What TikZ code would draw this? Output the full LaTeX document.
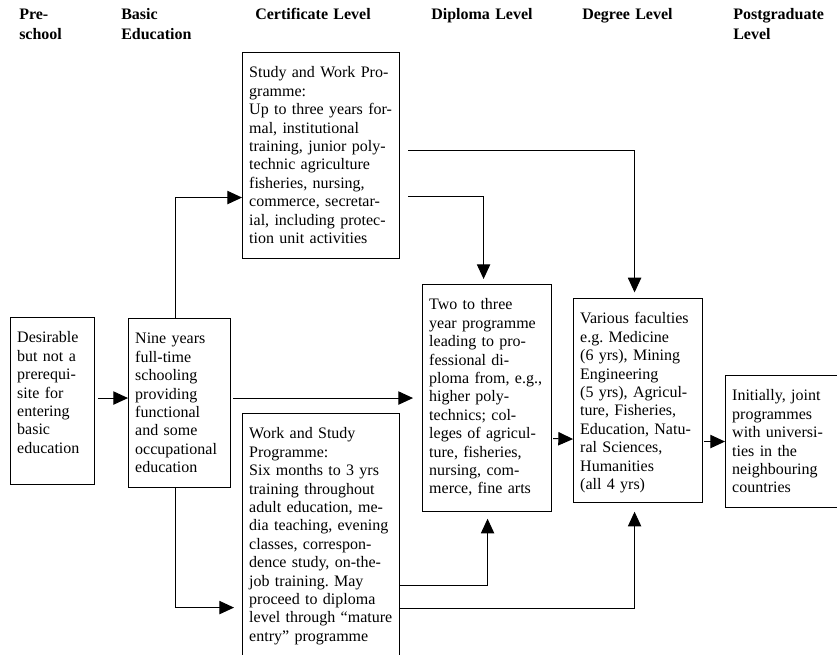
\documentclass[tikz,border=0pt]{standalone}
\usepackage{fontspec}
\setmainfont{Liberation Serif}
\usetikzlibrary{arrows.meta}

\begin{document}
\begin{tikzpicture}[
  x=0.75pt, y=-0.75pt,
  level/.style={anchor=base west, inner sep=0pt, text width=100pt, align=left,
    font=\fontsize{12}{15}\selectfont\bfseries},
  stage/.style={draw, line width=0.8pt, anchor=north west, align=left,
    inner xsep=5pt, inner ysep=10.5pt, text height=8.5pt,
    font=\fontsize{12}{13.8}\selectfont\frenchspacing},
  arrow/.style={-{Triangle[length=11pt, width=10pt]}, line width=0.75pt}
]
\useasboundingbox (0,0) rectangle (837,654);

% column headings
\node (hpre)  [level] at (19,19)  {Pre-\\school};
\node (hbas)  [level] at (121,19) {Basic\\Education};
\node (hcert) [level] at (255,19) {Certificate Level};
\node (hdip)  [level] at (431,19) {Diploma Level};
\node (hdeg)  [level] at (582,19) {Degree Level};
\node (hpost) [level] at (733,19) {Postgraduate\\Level};

% stages
\node (pre) [stage, text width=53pt, text depth=95.75pt] at (10,317)
  {Desirable\\but not a\\prerequi-\\site for\\entering\\basic\\education};
\node (basic) [stage, text width=66.5pt, text depth=97.25pt] at (128,318)
  {Nine years\\full-time\\schooling\\providing\\functional\\and some\\occupational\\education};
\node (cert) [stage, text width=107.75pt, text depth=125pt] at (242,52)
  {Study and Work~Pro-\\gramme:\\Up to three years~for-\\mal, institutional\\training, junior~poly-\\technic agriculture\\fisheries, nursing,\\commerce, secretar-\\ial, including~protec-\\tion unit activities};
\node (work) [stage, text width=107.75pt, text depth=155.75pt] at (242,413)
  {Work and Study\\Programme:\\Six months to 3 yrs\\training throughout\\adult education,~me-\\dia teaching,~evening\\classes, correspon-\\dence study, on-the-\\job training. May\\proceed to diploma\\level through~“mature\\entry” programme};
\node (dip) [stage, text width=86.75pt, text depth=140.75pt] at (422,284)
  {Two to three\\year programme\\leading to pro-\\fessional di-\\ploma from,~e.g.,\\higher poly-\\technics; col-\\leges of agricul-\\ture, fisheries,\\nursing, com-\\merce, fine arts};
\node (deg) [stage, text width=86.75pt, text depth=123.5pt] at (573,298)
  {Various faculties\\e.g. Medicine\\(6 yrs), Mining\\Engineering\\(5 yrs), Agricul-\\ture, Fisheries,\\Education, Natu-\\ral Sciences,\\Humanities\\(all 4 yrs)};
\node (post) [stage, text width=80pt, text depth=69.5pt] at (725,375)
  {Initially, joint\\programmes\\with universi-\\ties in the\\neighbouring\\countries};

% connectors
\draw [arrow, shorten <=2.25pt] (pre.east |- dip.west) -- (basic.west |- dip.west);
\draw [arrow, shorten <=1.5pt, shorten >=6.75pt] (basic.east |- dip.west) -- (dip.west);
\draw [arrow] ([xshift=-3pt]basic.north) |- ([yshift=-31.5pt]cert.west);
\draw [arrow, shorten >=6pt] ([xshift=-3pt]basic.south) |- ([yshift=-52.9pt]work.west);
\draw [arrow, shorten <=6pt, shorten >=4.2pt] ([yshift=3.75pt]cert.east) -| ([xshift=-2.6pt]deg.north);
\draw [arrow, shorten <=6pt, shorten >=3.75pt] ([yshift=-30.75pt]cert.east) -| ([xshift=-2.6pt]dip.north);
\draw [arrow, shorten >=5pt] ([yshift=-36.4pt]work.east) -| ([xshift=0.4pt]dip.south);
\draw [arrow, shorten >=6.5pt] ([yshift=-53.6pt]work.east) -| ([xshift=-2.6pt]deg.south);
\draw [arrow, shorten <=0.75pt] ([yshift=-30.4pt]dip.east) -- ([yshift=-28.9pt]deg.west);
\draw [arrow, shorten <=0.75pt] (deg.east |- post.west) -- (post.west);

\end{tikzpicture}
\end{document}
